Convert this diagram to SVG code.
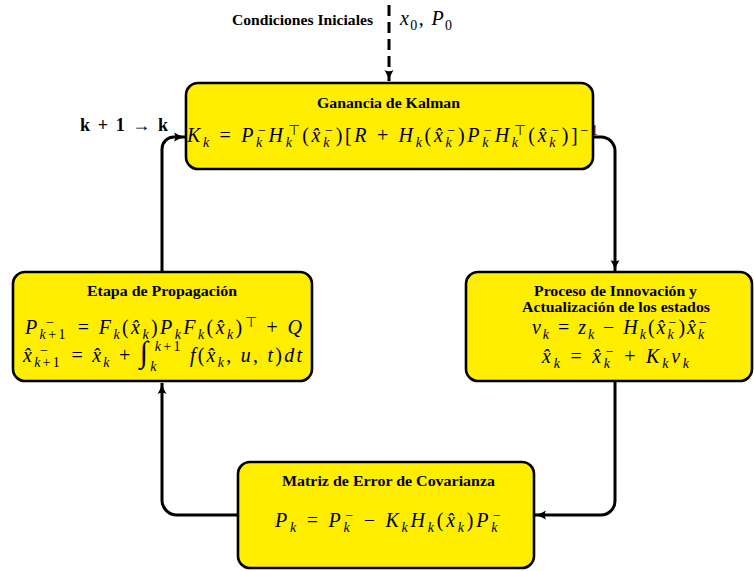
<svg xmlns="http://www.w3.org/2000/svg" width="754" height="571" viewBox="0 0 754 571">
<style>
.box{fill:#FFEE00;stroke:#000;stroke-width:2.6}
.t{font-family:"Liberation Serif",serif;font-weight:bold;font-size:15.5px;fill:#000;text-anchor:start}
.m{font-family:"Liberation Serif",serif;font-style:italic;font-size:20px;fill:#000}
.u{font-style:normal}
.sb{font-size:14px;baseline-shift:-5px}
.sp{font-size:14px;baseline-shift:7px}
.il{font-size:14px;baseline-shift:-9px}
.iu{font-size:14px;baseline-shift:11px}
.big{font-size:30px;font-style:normal}
.c{fill:none;stroke:#000;stroke-width:3}
</style>
<defs>
<marker id="ah" viewBox="0 0 12 10" refX="11" refY="5" markerWidth="12" markerHeight="10" markerUnits="userSpaceOnUse" orient="auto">
<path d="M0,0.5 Q5,4 12,5 Q5,6 0,9.5 Q2.5,5 0,0.5 Z" fill="#000"/>
</marker>
</defs>
<g id="connectors">
<path class="c" d="M389,5 V81" stroke-dasharray="11 6" marker-end="url(#ah)"/>
<path class="c" d="M593,137 H601 A14,14 0 0 1 615,151 V271" marker-end="url(#ah)"/>
<path class="c" d="M615,381 V501 A14,14 0 0 1 601,515 H535" marker-end="url(#ah)"/>
<path class="c" d="M238,515 H177 A15,15 0 0 1 162,500 V383" marker-end="url(#ah)"/>
<path class="c" d="M162,272 V149 A12,12 0 0 1 174,137 H185" marker-end="url(#ah)"/>
</g>
<g id="init">
<text class="t" x="232" y="25" textLength="141" lengthAdjust="spacingAndGlyphs">Condiciones Iniciales</text>
<text class="m" x="400" y="25" textLength="52">x<tspan class="u sb">0</tspan><tspan class="u">, </tspan>P<tspan class="u sb">0</tspan></text>
</g>
<g id="iter">
<text x="80" y="131" textLength="88" style="font-family:'Liberation Serif',serif;font-weight:bold;font-size:18px">k + 1 → k</text>
</g>
<g id="kalman">
<rect class="box" x="186" y="83" width="407" height="86" rx="12"/>
<text class="t" x="317" y="108" textLength="143" lengthAdjust="spacingAndGlyphs">Ganancia de Kalman</text>
<text class="m" x="187" y="142" textLength="411">K<tspan class="sb">k</tspan><tspan class="u"> = </tspan>P<tspan class="sb">k</tspan><tspan class="u sp" dx="-7">−</tspan>H<tspan class="sb">k</tspan><tspan class="u sp" dx="-7">⊤</tspan><tspan class="u">(</tspan>x̂<tspan class="sb">k</tspan><tspan class="u sp" dx="-7">−</tspan><tspan class="u">)[</tspan>R<tspan class="u"> + </tspan>H<tspan class="sb">k</tspan><tspan class="u">(</tspan>x̂<tspan class="sb">k</tspan><tspan class="u sp" dx="-7">−</tspan><tspan class="u">)</tspan>P<tspan class="sb">k</tspan><tspan class="u sp" dx="-7">−</tspan>H<tspan class="sb">k</tspan><tspan class="u sp" dx="-7">⊤</tspan><tspan class="u">(</tspan>x̂<tspan class="sb">k</tspan><tspan class="u sp" dx="-7">−</tspan><tspan class="u">)]</tspan><tspan class="u sp">−1</tspan></text>
</g>
<g id="propagacion">
<rect class="box" x="13" y="272" width="299" height="109" rx="12"/>
<text class="t" x="87" y="296" textLength="150" lengthAdjust="spacingAndGlyphs">Etapa de Propagación</text>
<text class="m" x="25" y="334" textLength="277">P<tspan class="sb">k<tspan class="u">+1</tspan></tspan><tspan class="u sp" dx="-22">−</tspan><tspan dx="14" class="u"> = </tspan>F<tspan class="sb">k</tspan><tspan class="u">(</tspan>x̂<tspan class="sb">k</tspan><tspan class="u">)</tspan>P<tspan class="sb">k</tspan>F<tspan class="sb">k</tspan><tspan class="u">(</tspan>x̂<tspan class="sb">k</tspan><tspan class="u">)</tspan><tspan class="u sp">⊤</tspan><tspan class="u"> + </tspan>Q</text>
<text class="m" x="23" y="362" textLength="279">x̂<tspan class="sb">k<tspan class="u">+1</tspan></tspan><tspan class="u sp" dx="-22">−</tspan><tspan dx="14" class="u"> = </tspan>x̂<tspan class="sb">k</tspan><tspan class="u"> + </tspan><tspan class="big">∫</tspan><tspan class="il">k</tspan><tspan class="iu" dx="-4">k<tspan class="u">+1</tspan></tspan><tspan> f</tspan><tspan class="u">(</tspan>x̂<tspan class="sb">k</tspan><tspan class="u">, </tspan>u<tspan class="u">, </tspan>t<tspan class="u">)</tspan>dt</text>
</g>
<g id="innovacion">
<rect class="box" x="466" y="272" width="286" height="109" rx="12"/>
<text class="t" x="534" y="296" textLength="163" lengthAdjust="spacingAndGlyphs">Proceso de Innovación y</text>
<text class="t" x="522" y="312" textLength="188" lengthAdjust="spacingAndGlyphs">Actualización de los estados</text>
<text class="m" x="532" y="334" textLength="175">ν<tspan class="sb">k</tspan><tspan class="u"> = </tspan>z<tspan class="sb">k</tspan><tspan class="u"> − </tspan>H<tspan class="sb">k</tspan><tspan class="u">(</tspan>x̂<tspan class="sb">k</tspan><tspan class="u sp" dx="-7">−</tspan><tspan class="u">)</tspan>x̂<tspan class="sb">k</tspan><tspan class="u sp" dx="-7">−</tspan></text>
<text class="m" x="542" y="363" textLength="147">x̂<tspan class="sb">k</tspan><tspan class="u"> = </tspan>x̂<tspan class="sb">k</tspan><tspan class="u sp" dx="-7">−</tspan><tspan class="u"> + </tspan>K<tspan class="sb">k</tspan>ν<tspan class="sb">k</tspan></text>
</g>
<g id="covarianza">
<rect class="box" x="238" y="462" width="296" height="106" rx="12"/>
<text class="t" x="282" y="486" textLength="213" lengthAdjust="spacingAndGlyphs">Matriz de Error de Covarianza</text>
<text class="m" x="275" y="527" textLength="226">P<tspan class="sb">k</tspan><tspan class="u"> = </tspan>P<tspan class="sb">k</tspan><tspan class="u sp" dx="-7">−</tspan><tspan class="u"> − </tspan>K<tspan class="sb">k</tspan>H<tspan class="sb">k</tspan><tspan class="u">(</tspan>x̂<tspan class="sb">k</tspan><tspan class="u">)</tspan>P<tspan class="sb">k</tspan><tspan class="u sp" dx="-7">−</tspan></text>
</g>
</svg>
